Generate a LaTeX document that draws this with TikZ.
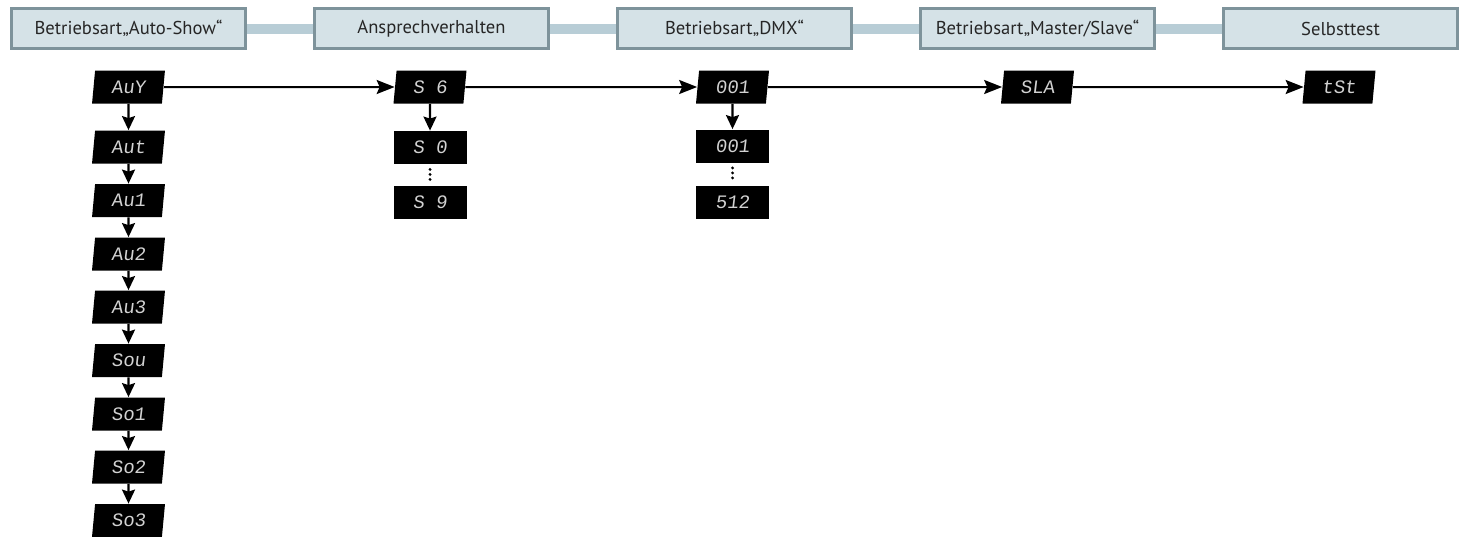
\documentclass[tikz,border=0pt]{standalone}
\usepackage{fontspec}
\setmainfont{PT Sans}
\newfontfamily\lcdfont[FakeSlant=0.12]{Liberation Mono}
\usetikzlibrary{shapes.geometric,arrows.meta}
\definecolor{boxfill}{HTML}{D5E2E7}
\definecolor{boxrim}{HTML}{7E939B}
\definecolor{barcol}{HTML}{B8CDD6}
\definecolor{lcdtext}{HTML}{D2D2D2}
\tikzset{
  modebox/.style={draw=boxrim, line width=1.5pt, fill=boxfill, minimum width=117pt,
    minimum height=20pt, inner sep=0pt, text=black!85, font=\fontsize{9.3}{10}\selectfont},
  lcd/.style={fill=black, text=lcdtext, shape=trapezium, trapezium left angle=83,
    trapezium right angle=97, trapezium stretches=true, minimum width=36.5pt,
    minimum height=16.5pt, inner sep=0pt, font=\lcdfont\fontsize{9.5}{9.5}\selectfont},
  lcdflat/.style={lcd, shape=rectangle},
  modebar/.style={draw=barcol, line width=5pt},
  flow/.style={line width=1pt, -{Stealth[length=9pt, width=7pt, inset=1.5pt]}},
  stepdown/.style={line width=1.1pt, -{Stealth[length=7pt, width=6.5pt, inset=1pt]}},
  rangedots/.style={line width=1.6pt, line cap=round, dash pattern=on 0pt off 2.5pt,
    shorten <=2.5pt, shorten >=2.5pt}
}
\begin{document}
\begin{tikzpicture}[x=0.5pt, y=-0.5pt]
    \useasboundingbox (0, 0) rectangle (1461, 536);
    % mode boxes
    \node[modebox] (auto) at (128.5, 28.5) {Betriebsart„Auto-Show“};
    \node[modebox] (sens) at (431.5, 28.5) {Ansprechverhalten};
    \node[modebox] (dmx) at (734.5, 28.5) {Betriebsart„DMX“};
    \node[modebox] (ms) at (1037.5, 28.5) {Betriebsart„Master/Slave“};
    \node[modebox] (test) at (1340.5, 28.5) {Selbsttest};
    \draw[modebar] (auto.east) -- (sens.west);
    \draw[modebar] (sens.east) -- (dmx.west);
    \draw[modebar] (dmx.east) -- (ms.west);
    \draw[modebar] (ms.east) -- (test.west);
    % displays, first row
    \node[lcd] (auy) at (128.5, 87) {AuY};
    \node[lcd] (s6) at (430, 87) {S 6};
    \node[lcd] (d1) at (732.5, 87) {001};
    \node[lcd] (sla) at (1037.5, 87) {SLA};
    \node[lcd] (tst) at (1339, 87) {tSt};
    \draw[flow] (auy) -- (s6);
    \draw[flow] (s6) -- (d1);
    \draw[flow] (d1) -- (sla);
    \draw[flow] (sla) -- (tst);
    % auto show programs
    \node[lcd] (aut) at (128.5, 147) {Aut};
    \node[lcd] (au1) at (128.5, 200.5) {Au1};
    \node[lcd] (au2) at (128.5, 254) {Au2};
    \node[lcd] (au3) at (128.5, 307) {Au3};
    \node[lcd] (sou) at (128.5, 360.5) {Sou};
    \node[lcd] (so1) at (128.5, 414) {So1};
    \node[lcd] (so2) at (128.5, 467) {So2};
    \node[lcd] (so3) at (128.5, 520.5) {So3};
    \draw[stepdown] (auy) -- (aut);
    \draw[stepdown] (aut) -- (au1);
    \draw[stepdown] (au1) -- (au2);
    \draw[stepdown] (au2) -- (au3);
    \draw[stepdown] (au3) -- (sou);
    \draw[stepdown] (sou) -- (so1);
    \draw[stepdown] (so1) -- (so2);
    \draw[stepdown] (so2) -- (so3);
    % sensitivity and dmx address ranges
    \node[lcdflat] (s0) at (430, 147.5) {S 0};
    \node[lcdflat] (s9) at (430, 202.5) {S 9};
    \node[lcdflat] (d2) at (732.5, 146) {001};
    \node[lcdflat] (d512) at (732.5, 202.5) {512};
    \draw[stepdown] (s6) -- (s0);
    \draw[rangedots] (s0) -- (s9);
    \draw[stepdown] (d1) -- (d2);
    \draw[rangedots] (d2) -- (d512);
\end{tikzpicture}
\end{document}
